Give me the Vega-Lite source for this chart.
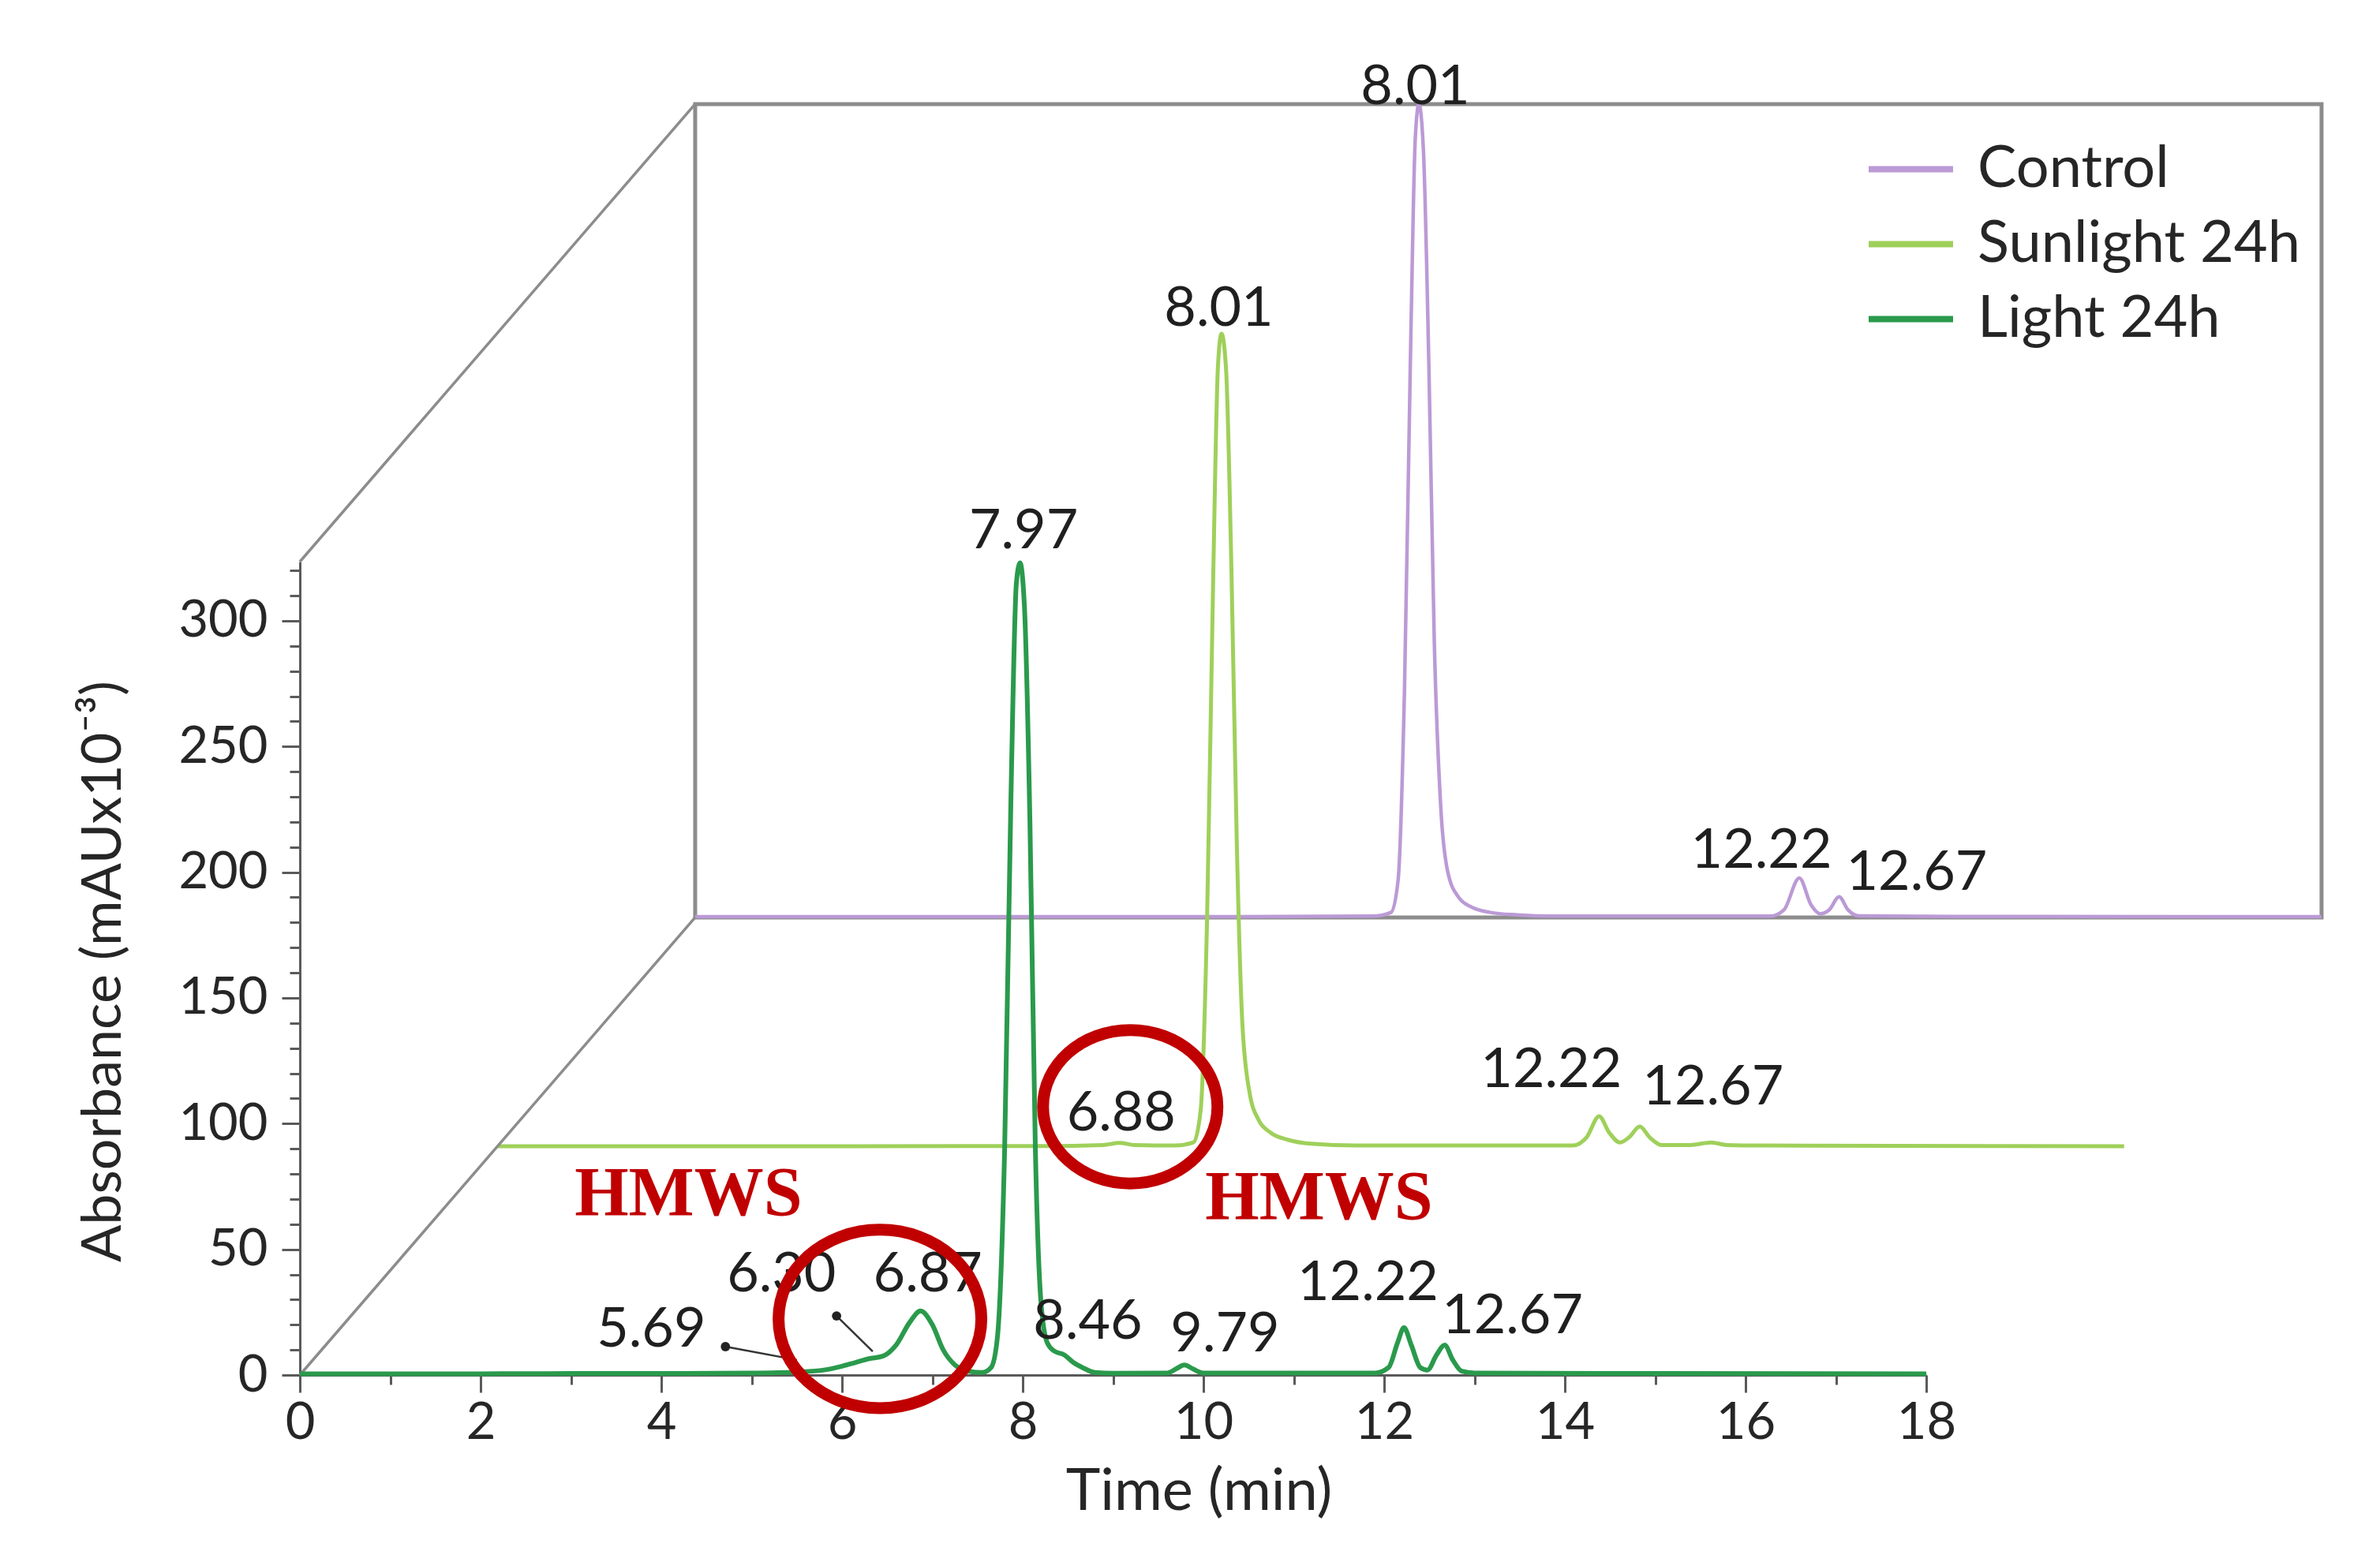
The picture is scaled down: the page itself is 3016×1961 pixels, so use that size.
{
  "$schema": "https://vega.github.io/schema/vega-lite/v6.json",
  "width": 2061,
  "height": 1031,
  "autosize": "none",
  "padding": {"left": 380, "top": 712, "right": 575, "bottom": 218},
  "background": "white",
  "config": {
    "view": {"stroke": null},
    "axis": {"grid": false},
    "legend": {
      "orient": "none",
      "legendX": 1984,
      "legendY": -555,
      "padding": 0,
      "symbolType": "stroke",
      "symbolSize": 11449,
      "symbolStrokeWidth": 8,
      "labelFont": "Lato",
      "labelFontSize": 74,
      "labelColor": "#262626",
      "labelOffset": 27,
      "labelLimit": 2000,
      "rowPadding": -16
    }
  },
  "datasets": {
    "traces": [
      {"series": "Light 24h", "time": 0, "abs": 0.5},
      {"series": "Light 24h", "time": 1, "abs": 0.5},
      {"series": "Light 24h", "time": 2, "abs": 0.5},
      {"series": "Light 24h", "time": 3, "abs": 0.6},
      {"series": "Light 24h", "time": 4, "abs": 0.6},
      {"series": "Light 24h", "time": 5, "abs": 0.8},
      {"series": "Light 24h", "time": 5.5, "abs": 1.2},
      {"series": "Light 24h", "time": 5.8, "abs": 2},
      {"series": "Light 24h", "time": 6.0, "abs": 3.5},
      {"series": "Light 24h", "time": 6.15, "abs": 5},
      {"series": "Light 24h", "time": 6.3, "abs": 6.5},
      {"series": "Light 24h", "time": 6.45, "abs": 7.5},
      {"series": "Light 24h", "time": 6.6, "abs": 12},
      {"series": "Light 24h", "time": 6.75, "abs": 21},
      {"series": "Light 24h", "time": 6.87, "abs": 25.5},
      {"series": "Light 24h", "time": 7.0, "abs": 20},
      {"series": "Light 24h", "time": 7.12, "abs": 10},
      {"series": "Light 24h", "time": 7.25, "abs": 4},
      {"series": "Light 24h", "time": 7.4, "abs": 1.5},
      {"series": "Light 24h", "time": 7.55, "abs": 1},
      {"series": "Light 24h", "time": 7.65, "abs": 3},
      {"series": "Light 24h", "time": 7.72, "abs": 15},
      {"series": "Light 24h", "time": 7.8, "abs": 90},
      {"series": "Light 24h", "time": 7.87, "abs": 230},
      {"series": "Light 24h", "time": 7.93, "abs": 315},
      {"series": "Light 24h", "time": 7.97, "abs": 323},
      {"series": "Light 24h", "time": 8.02, "abs": 305},
      {"series": "Light 24h", "time": 8.08, "abs": 220},
      {"series": "Light 24h", "time": 8.14, "abs": 90},
      {"series": "Light 24h", "time": 8.2, "abs": 30},
      {"series": "Light 24h", "time": 8.27, "abs": 13},
      {"series": "Light 24h", "time": 8.35, "abs": 9.5},
      {"series": "Light 24h", "time": 8.46, "abs": 8},
      {"series": "Light 24h", "time": 8.56, "abs": 5},
      {"series": "Light 24h", "time": 8.66, "abs": 3},
      {"series": "Light 24h", "time": 8.8, "abs": 1},
      {"series": "Light 24h", "time": 9.0, "abs": 0.7},
      {"series": "Light 24h", "time": 9.6, "abs": 0.8},
      {"series": "Light 24h", "time": 9.7, "abs": 2.5},
      {"series": "Light 24h", "time": 9.79, "abs": 4},
      {"series": "Light 24h", "time": 9.88, "abs": 2.5},
      {"series": "Light 24h", "time": 10.0, "abs": 0.8},
      {"series": "Light 24h", "time": 11.9, "abs": 0.8},
      {"series": "Light 24h", "time": 12.05, "abs": 3},
      {"series": "Light 24h", "time": 12.15, "abs": 13},
      {"series": "Light 24h", "time": 12.22, "abs": 18.8},
      {"series": "Light 24h", "time": 12.3, "abs": 12},
      {"series": "Light 24h", "time": 12.4, "abs": 3},
      {"series": "Light 24h", "time": 12.48, "abs": 2},
      {"series": "Light 24h", "time": 12.58, "abs": 8},
      {"series": "Light 24h", "time": 12.67, "abs": 11.9},
      {"series": "Light 24h", "time": 12.76, "abs": 6},
      {"series": "Light 24h", "time": 12.86, "abs": 1.5},
      {"series": "Light 24h", "time": 13.0, "abs": 0.8},
      {"series": "Light 24h", "time": 15, "abs": 0.6},
      {"series": "Light 24h", "time": 18, "abs": 0.5},

      {"series": "Sunlight 24h", "time": 0, "abs": 0.5},
      {"series": "Sunlight 24h", "time": 2, "abs": 0.5},
      {"series": "Sunlight 24h", "time": 4, "abs": 0.5},
      {"series": "Sunlight 24h", "time": 6, "abs": 0.6},
      {"series": "Sunlight 24h", "time": 6.7, "abs": 1},
      {"series": "Sunlight 24h", "time": 6.88, "abs": 1.8},
      {"series": "Sunlight 24h", "time": 7.05, "abs": 1},
      {"series": "Sunlight 24h", "time": 7.5, "abs": 0.8},
      {"series": "Sunlight 24h", "time": 7.7, "abs": 2},
      {"series": "Sunlight 24h", "time": 7.78, "abs": 15},
      {"series": "Sunlight 24h", "time": 7.85, "abs": 90},
      {"series": "Sunlight 24h", "time": 7.92, "abs": 230},
      {"series": "Sunlight 24h", "time": 7.97, "abs": 310},
      {"series": "Sunlight 24h", "time": 8.01, "abs": 323.7},
      {"series": "Sunlight 24h", "time": 8.06, "abs": 310},
      {"series": "Sunlight 24h", "time": 8.12, "abs": 230},
      {"series": "Sunlight 24h", "time": 8.18, "abs": 120},
      {"series": "Sunlight 24h", "time": 8.24, "abs": 50},
      {"series": "Sunlight 24h", "time": 8.32, "abs": 22},
      {"series": "Sunlight 24h", "time": 8.42, "abs": 11},
      {"series": "Sunlight 24h", "time": 8.55, "abs": 6},
      {"series": "Sunlight 24h", "time": 8.75, "abs": 3},
      {"series": "Sunlight 24h", "time": 9.0, "abs": 1.5},
      {"series": "Sunlight 24h", "time": 9.5, "abs": 0.8},
      {"series": "Sunlight 24h", "time": 11.9, "abs": 0.8},
      {"series": "Sunlight 24h", "time": 12.05, "abs": 4},
      {"series": "Sunlight 24h", "time": 12.19, "abs": 12.4},
      {"series": "Sunlight 24h", "time": 12.3, "abs": 6},
      {"series": "Sunlight 24h", "time": 12.42, "abs": 2},
      {"series": "Sunlight 24h", "time": 12.52, "abs": 4},
      {"series": "Sunlight 24h", "time": 12.64, "abs": 8.3},
      {"series": "Sunlight 24h", "time": 12.75, "abs": 4},
      {"series": "Sunlight 24h", "time": 12.88, "abs": 1},
      {"series": "Sunlight 24h", "time": 13.2, "abs": 1},
      {"series": "Sunlight 24h", "time": 13.43, "abs": 2},
      {"series": "Sunlight 24h", "time": 13.6, "abs": 1},
      {"series": "Sunlight 24h", "time": 14, "abs": 0.8},
      {"series": "Sunlight 24h", "time": 18, "abs": 0.5},

      {"series": "Control", "time": 0, "abs": 0.3},
      {"series": "Control", "time": 2, "abs": 0.3},
      {"series": "Control", "time": 4, "abs": 0.3},
      {"series": "Control", "time": 6, "abs": 0.3},
      {"series": "Control", "time": 7.5, "abs": 0.5},
      {"series": "Control", "time": 7.7, "abs": 2},
      {"series": "Control", "time": 7.78, "abs": 15},
      {"series": "Control", "time": 7.85, "abs": 90},
      {"series": "Control", "time": 7.92, "abs": 230},
      {"series": "Control", "time": 7.97, "abs": 310},
      {"series": "Control", "time": 8.01, "abs": 323.5},
      {"series": "Control", "time": 8.06, "abs": 305},
      {"series": "Control", "time": 8.12, "abs": 220},
      {"series": "Control", "time": 8.18, "abs": 110},
      {"series": "Control", "time": 8.25, "abs": 45},
      {"series": "Control", "time": 8.33, "abs": 18},
      {"series": "Control", "time": 8.45, "abs": 8},
      {"series": "Control", "time": 8.6, "abs": 4},
      {"series": "Control", "time": 8.8, "abs": 2},
      {"series": "Control", "time": 9.1, "abs": 1},
      {"series": "Control", "time": 9.5, "abs": 0.5},
      {"series": "Control", "time": 11.9, "abs": 0.5},
      {"series": "Control", "time": 12.05, "abs": 3},
      {"series": "Control", "time": 12.22, "abs": 15.7},
      {"series": "Control", "time": 12.35, "abs": 5},
      {"series": "Control", "time": 12.45, "abs": 1.5},
      {"series": "Control", "time": 12.55, "abs": 3},
      {"series": "Control", "time": 12.66, "abs": 8.2},
      {"series": "Control", "time": 12.76, "abs": 3},
      {"series": "Control", "time": 12.88, "abs": 0.6},
      {"series": "Control", "time": 14, "abs": 0.4},
      {"series": "Control", "time": 18, "abs": 0.3}
    ],
    "labels": [
      {"series": "Light 24h", "time": 3.89, "abs": 11.4, "text": "5.69"},
      {"series": "Light 24h", "time": 5.33, "abs": 33.3, "text": "6.30"},
      {"series": "Light 24h", "time": 6.95, "abs": 33.3, "text": "6.87"},
      {"series": "Light 24h", "time": 8.01, "abs": 328.8, "text": "7.97"},
      {"series": "Light 24h", "time": 8.72, "abs": 14.4, "text": "8.46"},
      {"series": "Light 24h", "time": 10.24, "abs": 9.4, "text": "9.79"},
      {"series": "Light 24h", "time": 11.82, "abs": 29.8, "text": "12.22"},
      {"series": "Light 24h", "time": 13.42, "abs": 16.6, "text": "12.67"},
      {"series": "Sunlight 24h", "time": 7.98, "abs": 326.8, "text": "8.01"},
      {"series": "Sunlight 24h", "time": 6.90, "abs": 6.8, "text": "6.88"},
      {"series": "Sunlight 24h", "time": 11.66, "abs": 24, "text": "12.22"},
      {"series": "Sunlight 24h", "time": 13.45, "abs": 17.1, "text": "12.67"},
      {"series": "Control", "time": 7.97, "abs": 323.5, "text": "8.01"},
      {"series": "Control", "time": 11.80, "abs": 19.8, "text": "12.22"},
      {"series": "Control", "time": 13.52, "abs": 11, "text": "12.67"}
    ],
    "frame": [{"t0": 0, "t1": 18, "a0": 0, "a1": 323.5}],
    "diag": [
      {"t0": 0, "a0": 0, "t1": 4.375, "a1": 182},
      {"t0": 0, "a0": 323.5, "t1": 4.375, "a1": 505.5}
    ],
    "notes": [
      {"text": "HMWS", "time": 4.30, "abs": 63.7},
      {"text": "HMWS", "time": 11.28, "abs": 62}
    ],
    "rings": [
      {"ring": "Light 24h", "time": 6.42, "abs": 22.3},
      {"ring": "Sunlight 24h", "time": 9.19, "abs": 106.7}
    ],
    "pointers": [
      {"time": 4.71, "abs": 11.3, "time2": 5.5, "abs2": 6},
      {"time": 5.94, "abs": 23.5, "time2": 6.34, "abs2": 9.4}
    ]
  },
  "resolve": {"scale": {"x": "independent", "y": "independent"}},
  "layer": [
    {
      "data": {"name": "frame"},
      "mark": {"type": "rect", "filled": false, "stroke": "#8c8c8c", "strokeWidth": 5},
      "encoding": {
        "x": {"field": "t0", "type": "quantitative", "scale": {"domain": [-4.375, 13.625], "nice": false, "zero": false}, "axis": null},
        "x2": {"field": "t1"},
        "y": {"field": "a0", "type": "quantitative", "scale": {"domain": [-182, 141.5], "nice": false, "zero": false}, "axis": null},
        "y2": {"field": "a1"}
      }
    },
    {
      "data": {"name": "traces"},
      "transform": [{"filter": "datum.series === 'Control'"}],
      "mark": {"type": "line", "strokeWidth": 4.5, "interpolate": "monotone"},
      "encoding": {
        "x": {"field": "time", "type": "quantitative", "scale": {"domain": [-4.375, 13.625], "nice": false, "zero": false}, "axis": null},
        "y": {"field": "abs", "type": "quantitative", "scale": {"domain": [-182, 141.5], "nice": false, "zero": false}, "axis": null},
        "color": {"field": "series", "type": "nominal", "title": null, "scale": {"domain": ["Control", "Sunlight 24h", "Light 24h"], "range": ["#bb9ad6", "#9fd05a", "#2a9a4c"]}}
      }
    },
    {
      "data": {"name": "labels"},
      "transform": [{"filter": "datum.series === 'Control'"}],
      "mark": {"type": "text", "font": "Lato", "fontSize": 70, "color": "#1f1f1f", "align": "center", "baseline": "alphabetic"},
      "encoding": {
        "x": {"field": "time", "type": "quantitative", "scale": {"domain": [-4.375, 13.625], "nice": false, "zero": false}, "axis": null},
        "y": {"field": "abs", "type": "quantitative", "scale": {"domain": [-182, 141.5], "nice": false, "zero": false}, "axis": null},
        "text": {"field": "text"}
      }
    },
    {
      "data": {"name": "traces"},
      "transform": [{"filter": "datum.series === 'Sunlight 24h'"}],
      "mark": {"type": "line", "strokeWidth": 5, "interpolate": "monotone"},
      "encoding": {
        "x": {"field": "time", "type": "quantitative", "scale": {"domain": [-2.19, 15.81], "nice": false, "zero": false}, "axis": null},
        "y": {"field": "abs", "type": "quantitative", "scale": {"domain": [-90.5, 233], "nice": false, "zero": false}, "axis": null},
        "color": {"field": "series", "type": "nominal", "title": null, "scale": {"domain": ["Control", "Sunlight 24h", "Light 24h"], "range": ["#bb9ad6", "#9fd05a", "#2a9a4c"]}}
      }
    },
    {
      "data": {"name": "labels"},
      "transform": [{"filter": "datum.series === 'Sunlight 24h'"}],
      "mark": {"type": "text", "font": "Lato", "fontSize": 70, "color": "#1f1f1f", "align": "center", "baseline": "alphabetic"},
      "encoding": {
        "x": {"field": "time", "type": "quantitative", "scale": {"domain": [-2.19, 15.81], "nice": false, "zero": false}, "axis": null},
        "y": {"field": "abs", "type": "quantitative", "scale": {"domain": [-90.5, 233], "nice": false, "zero": false}, "axis": null},
        "text": {"field": "text"}
      }
    },
    {
      "data": {"name": "diag"},
      "mark": {"type": "rule", "color": "#8c8c8c", "strokeWidth": 3.5},
      "encoding": {
        "x": {"field": "t0", "type": "quantitative", "scale": {"domain": [0, 18], "nice": false, "zero": false}, "axis": null},
        "x2": {"field": "t1"},
        "y": {"field": "a0", "type": "quantitative", "scale": {"domain": [0, 323.5], "nice": false, "zero": false}, "axis": null},
        "y2": {"field": "a1"}
      }
    },
    {
      "data": {"name": "traces"},
      "transform": [{"filter": "datum.series === 'Light 24h'"}],
      "mark": {"type": "line", "strokeWidth": 6, "interpolate": "monotone"},
      "encoding": {
        "x": {
          "field": "time", "type": "quantitative",
          "scale": {"domain": [0, 18], "nice": false, "zero": false},
          "axis": {
            "orient": "bottom",
            "values": [0,0.5,1,1.5,2,2.5,3,3.5,4,4.5,5,5.5,6,6.5,7,7.5,8,8.5,9,9.5,10,10.5,11,11.5,12,12.5,13,13.5,14,14.5,15,15.5,16,16.5,17,17.5,18],
            "format": "d",
            "labelExpr": "datum.value % 2 === 0 ? datum.label : ''",
            "tickSize": {"condition": {"test": "datum.value % 2 === 0", "value": 22}, "value": 12},
            "domainColor": "#5a5a5a", "domainWidth": 3,
            "tickColor": "#5a5a5a", "tickWidth": 3,
            "labelFont": "Lato", "labelFontSize": 65, "labelColor": "#262626",
            "labelPadding": 7, "labelFlush": false, "labelOverlap": false,
            "title": "Time (min)", "titleFont": "Lato", "titleFontSize": 74, "titleFontWeight": "normal", "titleColor": "#262626",
            "titleX": 1139, "titleY": 170, "titleBaseline": "alphabetic", "titleAlign": "center"
          }
        },
        "y": {
          "field": "abs", "type": "quantitative",
          "scale": {"domain": [0, 323.5], "nice": false, "zero": false},
          "axis": {
            "orient": "left",
            "values": [0,10,20,30,40,50,60,70,80,90,100,110,120,130,140,150,160,170,180,190,200,210,220,230,240,250,260,270,280,290,300,310,320],
            "format": "d",
            "labelExpr": "datum.value % 50 === 0 ? datum.label : ''",
            "tickSize": {"condition": {"test": "datum.value % 50 === 0", "value": 23}, "value": 13},
            "domainColor": "#5a5a5a", "domainWidth": 3,
            "tickColor": "#5a5a5a", "tickWidth": 3,
            "labelFont": "Lato", "labelFontSize": 65, "labelColor": "#262626",
            "labelPadding": 18, "labelFlush": false, "labelOverlap": false,
            "title": "Absorbance (mAUx10⁻³)", "titleFont": "Lato", "titleFontSize": 70, "titleFontWeight": "normal", "titleColor": "#262626",
            "titleX": -228, "titleY": 519, "titleBaseline": "alphabetic", "titleAlign": "center", "titleAngle": -90
          }
        },
        "color": {"field": "series", "type": "nominal", "title": null, "scale": {"domain": ["Control", "Sunlight 24h", "Light 24h"], "range": ["#bb9ad6", "#9fd05a", "#2a9a4c"]}}
      }
    },
    {
      "data": {"name": "labels"},
      "transform": [{"filter": "datum.series === 'Light 24h'"}],
      "mark": {"type": "text", "font": "Lato", "fontSize": 70, "color": "#1f1f1f", "align": "center", "baseline": "alphabetic"},
      "encoding": {
        "x": {"field": "time", "type": "quantitative", "scale": {"domain": [0, 18], "nice": false, "zero": false}, "axis": null},
        "y": {"field": "abs", "type": "quantitative", "scale": {"domain": [0, 323.5], "nice": false, "zero": false}, "axis": null},
        "text": {"field": "text"}
      }
    },
    {
      "data": {"name": "pointers"},
      "mark": {"type": "rule", "color": "#333333", "strokeWidth": 2.5},
      "encoding": {
        "x": {"field": "time", "type": "quantitative", "scale": {"domain": [0, 18], "nice": false, "zero": false}, "axis": null},
        "x2": {"field": "time2"},
        "y": {"field": "abs", "type": "quantitative", "scale": {"domain": [0, 323.5], "nice": false, "zero": false}, "axis": null},
        "y2": {"field": "abs2"}
      }
    },
    {
      "data": {"name": "pointers"},
      "mark": {"type": "point", "shape": "circle", "filled": true, "size": 140, "color": "#222222", "opacity": 1},
      "encoding": {
        "x": {"field": "time", "type": "quantitative", "scale": {"domain": [0, 18], "nice": false, "zero": false}, "axis": null},
        "y": {"field": "abs", "type": "quantitative", "scale": {"domain": [0, 323.5], "nice": false, "zero": false}, "axis": null}
      }
    },
    {
      "data": {"name": "notes"},
      "mark": {"type": "text", "font": "Liberation Serif", "fontWeight": "bold", "fontSize": 88, "color": "#c00000", "align": "center", "baseline": "alphabetic"},
      "encoding": {
        "x": {"field": "time", "type": "quantitative", "scale": {"domain": [0, 18], "nice": false, "zero": false}, "axis": null},
        "y": {"field": "abs", "type": "quantitative", "scale": {"domain": [0, 323.5], "nice": false, "zero": false}, "axis": null},
        "text": {"field": "text"}
      }
    },
    {
      "data": {"name": "rings"},
      "transform": [{"filter": "datum.ring === 'Light 24h'"}],
      "mark": {"type": "point", "filled": false, "stroke": "#c00000", "strokeWidth": 15, "opacity": 1, "size": 66049,
               "shape": "M 1 0 C 1 0.486 0.552 0.88 0 0.88 C -0.552 0.88 -1 0.486 -1 0 C -1 -0.486 -0.552 -0.88 0 -0.88 C 0.552 -0.88 1 -0.486 1 0 Z"},
      "encoding": {
        "x": {"field": "time", "type": "quantitative", "scale": {"domain": [0, 18], "nice": false, "zero": false}, "axis": null},
        "y": {"field": "abs", "type": "quantitative", "scale": {"domain": [0, 323.5], "nice": false, "zero": false}, "axis": null}
      }
    },
    {
      "data": {"name": "rings"},
      "transform": [{"filter": "datum.ring === 'Sunlight 24h'"}],
      "mark": {"type": "point", "filled": false, "stroke": "#c00000", "strokeWidth": 15, "opacity": 1, "size": 48841,
               "shape": "M 1 0 C 1 0.486 0.552 0.88 0 0.88 C -0.552 0.88 -1 0.486 -1 0 C -1 -0.486 -0.552 -0.88 0 -0.88 C 0.552 -0.88 1 -0.486 1 0 Z"},
      "encoding": {
        "x": {"field": "time", "type": "quantitative", "scale": {"domain": [0, 18], "nice": false, "zero": false}, "axis": null},
        "y": {"field": "abs", "type": "quantitative", "scale": {"domain": [0, 323.5], "nice": false, "zero": false}, "axis": null}
      }
    }
  ]
}
